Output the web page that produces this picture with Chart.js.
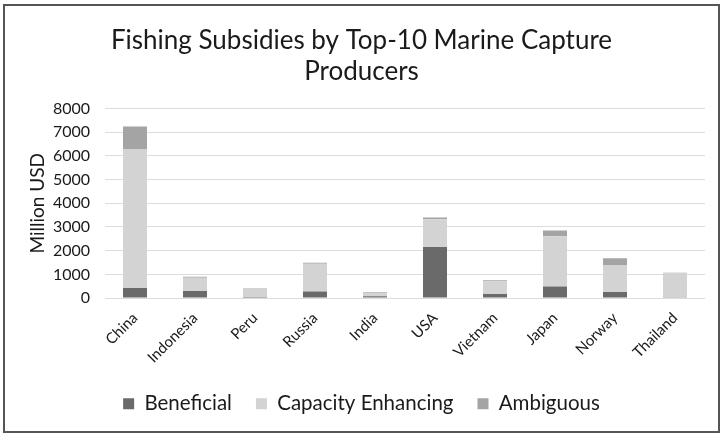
<!DOCTYPE html>
<html lang="en">
<head>
  <meta charset="UTF-8">
  <title>Fishing Subsidies by Top-10 Marine Capture Producers</title>
  <script src="https://cdn.jsdelivr.net/npm/chart.js"></script>
  <style>
    html, body { margin: 0; padding: 0; background: #fff; }
    #wrap { width: 723px; height: 438px; }
  </style>
</head>
<body>
  <div id="wrap"><canvas id="subsidyChart" width="723" height="438"></canvas></div>

  <script>
    // Data (million USD)
    const countries = ['China', 'Indonesia', 'Peru', 'Russia', 'India', 'USA', 'Vietnam', 'Japan', 'Norway', 'Thailand'];
    const beneficial = [420, 300, 50, 280, 80, 2150, 170, 490, 260, 40];
    const capacityEnhancing = [5870, 560, 380, 1170, 150, 1170, 540, 2120, 1140, 1040];
    const ambiguous = [950, 40, 0, 40, 30, 80, 40, 240, 280, 0];
    const yTicks = [0, 1000, 2000, 3000, 4000, 5000, 6000, 7000, 8000];

    // frame around the whole chart, like the scanned figure
    const framePlugin = {
      id: 'frame',
      beforeDraw(chart) {
        const ctx = chart.ctx;
        ctx.save();
        ctx.fillStyle = '#ffffff';
        ctx.fillRect(0, 0, chart.width, chart.height);
        ctx.strokeStyle = '#555555';
        ctx.lineWidth = 2;
        ctx.strokeRect(4, 5, chart.width - 8, chart.height - 11);
        ctx.restore();
      }
    };

    const ctx = document.getElementById('subsidyChart').getContext('2d');
    new Chart(ctx, {
      type: 'bar',
      data: {
        labels: countries,
        datasets: [
          { label: 'Beneficial', data: beneficial, backgroundColor: '#6a6a6a' },
          { label: 'Capacity Enhancing', data: capacityEnhancing, backgroundColor: '#d3d3d3' },
          { label: 'Ambiguous', data: ambiguous, backgroundColor: '#a4a4a4' }
        ]
      },
      options: {
        responsive: false,
        animation: false,
        datasets: {
          bar: { barPercentage: 0.4, categoryPercentage: 1.0 }
        },
        layout: { padding: { left: 18, right: 18, top: 10, bottom: 14 } },
        plugins: {
          title: {
            display: true,
            text: ['Fishing Subsidies by Top-10 Marine Capture', 'Producers'],
            color: '#1a1a1a',
            font: { family: 'Lato', size: 26, weight: 'normal' },
            padding: { top: 15, bottom: 21 }
          },
          legend: {
            position: 'bottom',
            labels: {
              color: '#1a1a1a',
              font: { family: 'Lato', size: 20.5 },
              boxWidth: 11,
              boxHeight: 11,
              padding: 24
            }
          },
          tooltip: { enabled: false }
        },
        scales: {
          x: {
            stacked: true,
            grid: { display: false },
            border: { display: false },
            afterFit: axis => { axis.paddingLeft = 0; },
            ticks: {
              color: '#1a1a1a',
              font: { family: 'Lato', size: 15 },
              minRotation: 45,
              maxRotation: 45
            }
          },
          y: {
            stacked: true,
            min: 0,
            max: 8000,
            afterBuildTicks: axis => { axis.ticks = yTicks.map(v => ({ value: v })); },
            // fixed axis width so the plot starts where the reference does
            afterFit: axis => { axis.width = 87; },
            grid: { color: '#dcdcdc', drawTicks: false },
            border: { display: false },
            ticks: {
              color: '#1a1a1a',
              font: { family: 'Lato', size: 16 },
              padding: 15,
              callback: value => String(value)
            },
            title: {
              display: true,
              text: 'Million USD',
              color: '#1a1a1a',
              font: { family: 'Lato', size: 19 },
              padding: { top: 8, bottom: 4 }
            }
          }
        }
      },
      plugins: [framePlugin]
    });
  </script>
</body>
</html>
